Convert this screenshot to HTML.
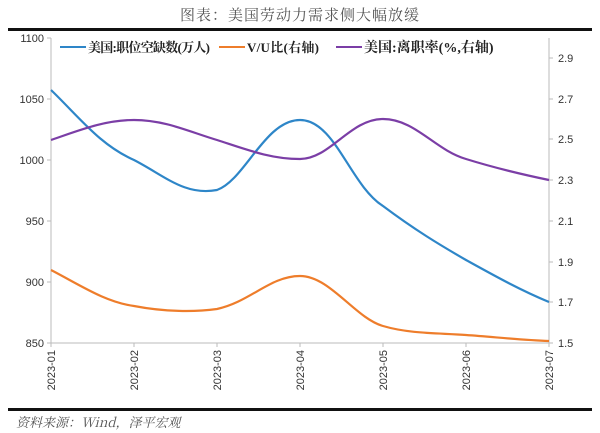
<!DOCTYPE html><html><head><meta charset="utf-8"><style>body{margin:0;background:#fff}svg{display:block}</style></head><body>
<svg width="600" height="433" xmlns="http://www.w3.org/2000/svg" font-family="Liberation Sans, Noto Sans CJK SC, sans-serif">
<text x="300" y="20" text-anchor="middle" font-size="15" fill="#555" font-family="Noto Serif CJK SC, serif" letter-spacing="1">图表：美国劳动力需求侧大幅放缓</text>
<rect x="8" y="28" width="584" height="3" fill="#111"/>
<rect x="8" y="408" width="584" height="3" fill="#111"/>
<text x="16" y="427" font-size="13" fill="#555" font-style="italic" font-family="Noto Serif CJK SC, serif">资料来源：Wind，泽平宏观</text>
<g stroke="#bbb" stroke-width="1" fill="none">
<path d="M51 38V343H549M549 38V343"/>
<path d="M47 38H51M47 99H51M47 160H51M47 221H51M47 282H51M47 343H51"/>
<path d="M549 58H553M549 99H553M549 139H553M549 180H553M549 221H553M549 262H553M549 302H553M549 343H553"/>
<path d="M51 343V347M134 343V347M217 343V347M300 343V347M383 343V347M466 343V347M549 343V347"/>
</g>
<g font-size="11" fill="#333" text-anchor="end">
<text x="44" y="42">1100</text><text x="44" y="103">1050</text><text x="44" y="164">1000</text><text x="44" y="225">950</text><text x="44" y="286">900</text><text x="44" y="347">850</text>
</g>
<g font-size="11" fill="#333">
<text x="558" y="62">2.9</text><text x="558" y="103">2.7</text><text x="558" y="143">2.5</text><text x="558" y="184">2.3</text><text x="558" y="225">2.1</text><text x="558" y="266">1.9</text><text x="558" y="306">1.7</text><text x="558" y="347">1.5</text>
</g>
<g font-size="11" fill="#333" text-anchor="end">
<text transform="translate(55,350) rotate(-90)">2023-01</text>
<text transform="translate(138,350) rotate(-90)">2023-02</text>
<text transform="translate(221,350) rotate(-90)">2023-03</text>
<text transform="translate(304,350) rotate(-90)">2023-04</text>
<text transform="translate(387,350) rotate(-90)">2023-05</text>
<text transform="translate(470,350) rotate(-90)">2023-06</text>
<text transform="translate(553,350) rotate(-90)">2023-07</text>
</g>
<g fill="none" stroke-width="2.2">
<path stroke="#2e86c8" d="M51 90C80 118 100 145 134 160C165 176 185 196 217 190C245 180 265 120 300 120C335 120 350 185 383 206C415 230 440 245 466 260C495 276 520 290 549 302"/>
<path stroke="#ee7d2b" d="M51 270C80 285 105 302 134 306C165 312 195 312 217 309C250 302 270 276 300 276C330 276 355 318 383 326C410 334 440 333 466 335C495 337 520 340 549 341"/>
<path stroke="#7b3ea6" d="M51 140C80 130 105 120 134 120C165 120 190 132 217 140C245 149 270 159 300 159C330 159 350 119 383 119C415 119 435 150 466 159C495 168 520 174 549 180"/>
</g>
<g font-size="13" font-weight="bold" fill="#222" font-family="Liberation Serif, Noto Serif CJK SC, serif">
<line x1="60" y1="47" x2="86" y2="47" stroke="#2e86c8" stroke-width="2"/><text x="88" y="52" textLength="122">美国:职位空缺数(万人)</text>
<line x1="219" y1="47" x2="245" y2="47" stroke="#ee7d2b" stroke-width="2"/><text x="247" y="52" textLength="72">V/U比(右轴)</text>
<line x1="336" y1="47" x2="362" y2="47" stroke="#7b3ea6" stroke-width="2"/><text x="364" y="52" font-size="14">美国:离职率(%,右轴)</text>
</g>
</svg>
</body></html>
